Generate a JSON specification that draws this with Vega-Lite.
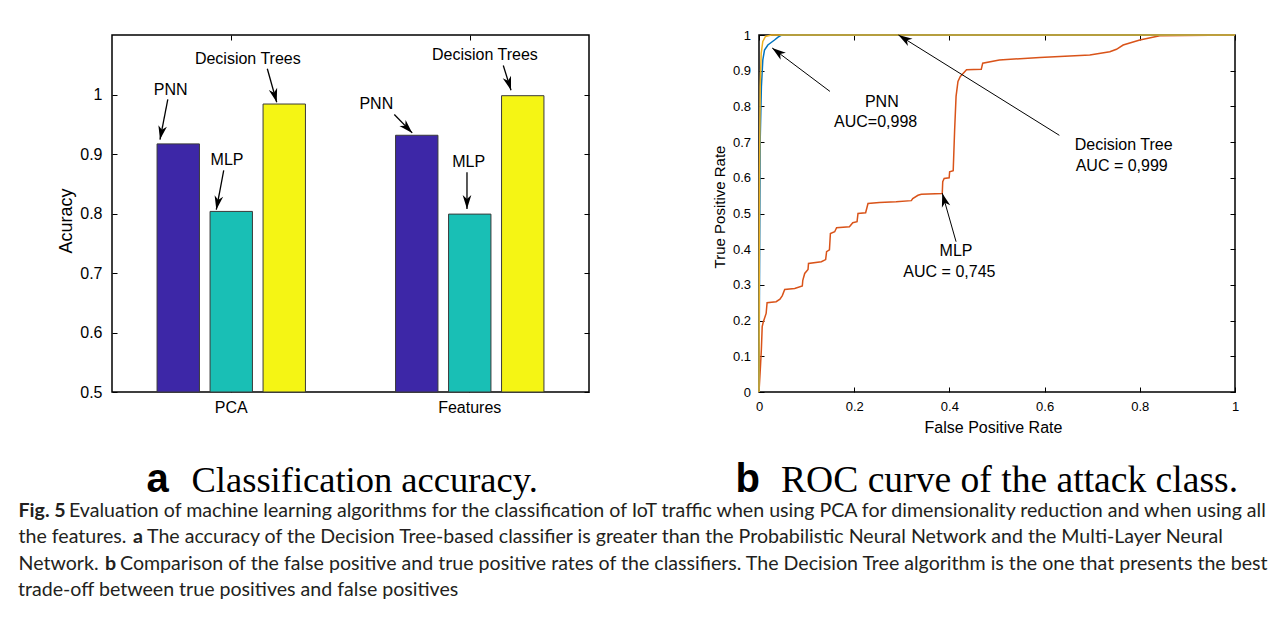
{
  "$schema": "https://vega.github.io/schema/vega-lite/v6.json",
  "background": "white",
  "padding": {"left": 16, "top": 28, "right": 5, "bottom": 0},
  "bounds": "flush",
  "spacing": 170,
  "config": {
    "view": {"stroke": "black", "strokeWidth": 1.5},
    "axis": {
      "domain": false,
      "grid": false,
      "labelColor": "black",
      "titleColor": "black",
      "tickColor": "black",
      "labelFont": "Liberation Sans",
      "titleFont": "Liberation Sans",
      "titleFontWeight": "normal"
    },
    "text": {"font": "Liberation Sans"}
  },
  "datasets": {
    "bars": [
      {"set": "PCA", "model": "PNN", "acc": 0.917},
      {"set": "PCA", "model": "MLP", "acc": 0.8035},
      {"set": "PCA", "model": "Decision Trees", "acc": 0.984},
      {"set": "Features", "model": "PNN", "acc": 0.9315},
      {"set": "Features", "model": "MLP", "acc": 0.799},
      {"set": "Features", "model": "Decision Trees", "acc": 0.998}
    ],
    "larrows": [
      {"x1": 0.3256, "y1": 1.0433, "x2": 0.3453, "y2": 0.987},
      {"x1": 0.117, "y1": 0.9916, "x2": 0.1006, "y2": 0.9242},
      {"x1": 0.2342, "y1": 0.8726, "x2": 0.2187, "y2": 0.8064},
      {"x1": 0.8203, "y1": 1.0488, "x2": 0.8365, "y2": 1.0072},
      {"x1": 0.5918, "y1": 0.9663, "x2": 0.6294, "y2": 0.9355},
      {"x1": 0.7442, "y1": 0.8692, "x2": 0.7442, "y2": 0.8076}
    ],
    "llabels": [
      {"x": 0.2847, "y": 1.06, "label": "Decision Trees"},
      {"x": 0.1229, "y": 1.0084, "label": "PNN"},
      {"x": 0.2411, "y": 0.8906, "label": "MLP"},
      {"x": 0.7818, "y": 1.0657, "label": "Decision Trees"},
      {"x": 0.5541, "y": 0.9832, "label": "PNN"},
      {"x": 0.7476, "y": 0.8867, "label": "MLP"}
    ],
    "roc": [
      {"model": "MLP", "fpr": 0, "tpr": 0},
      {"model": "MLP", "fpr": 0.003, "tpr": 0.07},
      {"model": "MLP", "fpr": 0.005, "tpr": 0.12},
      {"model": "MLP", "fpr": 0.0067, "tpr": 0.183},
      {"model": "MLP", "fpr": 0.009, "tpr": 0.196},
      {"model": "MLP", "fpr": 0.015, "tpr": 0.22},
      {"model": "MLP", "fpr": 0.017, "tpr": 0.25},
      {"model": "MLP", "fpr": 0.036, "tpr": 0.253},
      {"model": "MLP", "fpr": 0.044, "tpr": 0.26},
      {"model": "MLP", "fpr": 0.049, "tpr": 0.27},
      {"model": "MLP", "fpr": 0.054, "tpr": 0.287},
      {"model": "MLP", "fpr": 0.075, "tpr": 0.29},
      {"model": "MLP", "fpr": 0.091, "tpr": 0.297},
      {"model": "MLP", "fpr": 0.092, "tpr": 0.313},
      {"model": "MLP", "fpr": 0.096, "tpr": 0.332},
      {"model": "MLP", "fpr": 0.103, "tpr": 0.343},
      {"model": "MLP", "fpr": 0.104, "tpr": 0.36},
      {"model": "MLP", "fpr": 0.131, "tpr": 0.365},
      {"model": "MLP", "fpr": 0.14, "tpr": 0.371},
      {"model": "MLP", "fpr": 0.142, "tpr": 0.393},
      {"model": "MLP", "fpr": 0.148, "tpr": 0.398},
      {"model": "MLP", "fpr": 0.15, "tpr": 0.444},
      {"model": "MLP", "fpr": 0.159, "tpr": 0.449},
      {"model": "MLP", "fpr": 0.163, "tpr": 0.46},
      {"model": "MLP", "fpr": 0.19, "tpr": 0.463},
      {"model": "MLP", "fpr": 0.197, "tpr": 0.474},
      {"model": "MLP", "fpr": 0.206, "tpr": 0.477},
      {"model": "MLP", "fpr": 0.208, "tpr": 0.5},
      {"model": "MLP", "fpr": 0.224, "tpr": 0.502},
      {"model": "MLP", "fpr": 0.229, "tpr": 0.528},
      {"model": "MLP", "fpr": 0.253, "tpr": 0.531},
      {"model": "MLP", "fpr": 0.288, "tpr": 0.533},
      {"model": "MLP", "fpr": 0.32, "tpr": 0.536},
      {"model": "MLP", "fpr": 0.323, "tpr": 0.542},
      {"model": "MLP", "fpr": 0.334, "tpr": 0.551},
      {"model": "MLP", "fpr": 0.341, "tpr": 0.554},
      {"model": "MLP", "fpr": 0.385, "tpr": 0.556},
      {"model": "MLP", "fpr": 0.386, "tpr": 0.589},
      {"model": "MLP", "fpr": 0.389, "tpr": 0.598},
      {"model": "MLP", "fpr": 0.3995, "tpr": 0.6},
      {"model": "MLP", "fpr": 0.4005, "tpr": 0.617},
      {"model": "MLP", "fpr": 0.408, "tpr": 0.62},
      {"model": "MLP", "fpr": 0.411, "tpr": 0.734},
      {"model": "MLP", "fpr": 0.414, "tpr": 0.828},
      {"model": "MLP", "fpr": 0.418, "tpr": 0.87},
      {"model": "MLP", "fpr": 0.423, "tpr": 0.884},
      {"model": "MLP", "fpr": 0.436, "tpr": 0.903},
      {"model": "MLP", "fpr": 0.467, "tpr": 0.904},
      {"model": "MLP", "fpr": 0.47, "tpr": 0.921},
      {"model": "MLP", "fpr": 0.505, "tpr": 0.93},
      {"model": "MLP", "fpr": 0.59, "tpr": 0.937},
      {"model": "MLP", "fpr": 0.695, "tpr": 0.944},
      {"model": "MLP", "fpr": 0.737, "tpr": 0.953},
      {"model": "MLP", "fpr": 0.751, "tpr": 0.96},
      {"model": "MLP", "fpr": 0.765, "tpr": 0.972},
      {"model": "MLP", "fpr": 0.8, "tpr": 0.986},
      {"model": "MLP", "fpr": 0.842, "tpr": 0.998},
      {"model": "MLP", "fpr": 1, "tpr": 1},
      {"model": "PNN", "fpr": 0, "tpr": 0},
      {"model": "PNN", "fpr": 0.001, "tpr": 0.3},
      {"model": "PNN", "fpr": 0.0025, "tpr": 0.705},
      {"model": "PNN", "fpr": 0.005, "tpr": 0.855},
      {"model": "PNN", "fpr": 0.008, "tpr": 0.93},
      {"model": "PNN", "fpr": 0.0116, "tpr": 0.958},
      {"model": "PNN", "fpr": 0.0186, "tpr": 0.972},
      {"model": "PNN", "fpr": 0.0256, "tpr": 0.979},
      {"model": "PNN", "fpr": 0.0326, "tpr": 0.986},
      {"model": "PNN", "fpr": 0.04, "tpr": 0.994},
      {"model": "PNN", "fpr": 0.0466, "tpr": 0.999},
      {"model": "PNN", "fpr": 0.057, "tpr": 1},
      {"model": "PNN", "fpr": 1, "tpr": 1},
      {"model": "Decision Tree", "fpr": 0, "tpr": 0},
      {"model": "Decision Tree", "fpr": 0.001, "tpr": 0.6},
      {"model": "Decision Tree", "fpr": 0.0025, "tpr": 0.855},
      {"model": "Decision Tree", "fpr": 0.0046, "tpr": 0.949},
      {"model": "Decision Tree", "fpr": 0.008, "tpr": 0.982},
      {"model": "Decision Tree", "fpr": 0.0137, "tpr": 0.996},
      {"model": "Decision Tree", "fpr": 0.026, "tpr": 1},
      {"model": "Decision Tree", "fpr": 1, "tpr": 1}
    ],
    "rarrows": [
      {"x1": 0.149, "y1": 0.842, "x2": 0.0277, "y2": 0.9636},
      {"x1": 0.631, "y1": 0.719, "x2": 0.293, "y2": 1.0},
      {"x1": 0.414, "y1": 0.421, "x2": 0.385, "y2": 0.557}
    ],
    "rlabels": [
      {"x": 0.258, "y": 0.812, "label": "PNN"},
      {"x": 0.245, "y": 0.756, "label": "AUC=0,998"},
      {"x": 0.766, "y": 0.691, "label": "Decision Tree"},
      {"x": 0.762, "y": 0.632, "label": "AUC = 0,999"},
      {"x": 0.414, "y": 0.396, "label": "MLP"},
      {"x": 0.4, "y": 0.336, "label": "AUC = 0,745"}
    ]
  },
  "hconcat": [
    {
      "width": 477,
      "height": 357,
      "layer": [
        {
          "data": {"name": "bars"},
          "mark": {"type": "bar", "stroke": "#3a3a3a", "strokeWidth": 1},
          "encoding": {
            "x": {
              "field": "set", "type": "nominal", "sort": ["PCA", "Features"],
              "scale": {"paddingInner": 0, "paddingOuter": 0},
              "axis": {
                "orient": "bottom", "labelAngle": 0, "labelFontSize": 16, "labelPadding": 12,
                "tickSize": -5, "tickWidth": 1,
                "title": "Classification accuracy.", "titleFont": "Liberation Serif", "titleFontSize": 36.5,
                "titleX": 79, "titleY": 99, "titleAlign": "left", "titleBaseline": "alphabetic", "titleAnchor": null
              }
            },
            "xOffset": {
              "field": "model", "type": "nominal", "sort": ["PNN", "MLP", "Decision Trees"],
              "scale": {"paddingInner": 0.2, "paddingOuter": 0.85}
            },
            "y": {
              "field": "acc", "type": "quantitative",
              "scale": {"domain": [0.5, 1.1], "zero": false, "nice": false},
              "axis": {
                "orient": "left", "values": [0.5, 0.6, 0.7, 0.8, 0.9, 1], "format": ".1~f",
                "labelFontSize": 16, "labelPadding": 15, "tickSize": -5,
                "title": "Acuracy", "titleFontSize": 18, "titleX": -46, "titleY": 185.5,
                "titleAlign": "center", "titleBaseline": "middle", "titleAngle": -90
              }
            },
            "y2": {"datum": 0.5},
            "fill": {
              "field": "model", "type": "nominal",
              "scale": {"domain": ["PNN", "MLP", "Decision Trees"], "range": ["#3d27a7", "#19bfb5", "#f5f514"]},
              "legend": null
            }
          }
        },
        {
          "data": {"name": "larrows"},
          "mark": {"type": "rule", "color": "black", "strokeWidth": 1.3},
          "encoding": {
            "x": {
              "field": "x1", "type": "quantitative",
              "scale": {"domain": [0, 1], "nice": false, "zero": false},
              "axis": {
                "orient": "top", "values": [0.25, 0.75], "labels": false, "tickSize": -5,
                "title": "the features.",
                "titleFont": "Lato", "titleFontSize": 19.6, "titleColor": "#231f20",
                "titleAngle": 0, "titleX": -94, "titleY": 507.6, "titleAlign": "left", "titleBaseline": "alphabetic"
              }
            },
            "x2": {"field": "x2"},
            "y": {
              "field": "y1", "type": "quantitative",
              "axis": {
                "orient": "right", "values": [0.5, 0.6, 0.7, 0.8, 0.9, 1], "labels": false, "tickSize": -5,
                "title": "Network.",
                "titleFont": "Lato", "titleFontSize": 19.6, "titleColor": "#231f20",
                "titleAngle": 0, "titleX": -571, "titleY": 534.2, "titleAlign": "left", "titleBaseline": "alphabetic"
              }
            },
            "y2": {"field": "y2"}
          }
        },
        {
          "data": {"name": "larrows"},
          "transform": [
            {"calculate": "atan2((datum.x2 - datum.x1) * 477, (datum.y2 - datum.y1) * 594) * 180 / PI", "as": "ang"}
          ],
          "mark": {"type": "point", "filled": true, "color": "black", "opacity": 1, "size": 300, "shape": "M0,0L-0.5,1.6L0,1.15L0.5,1.6Z"},
          "encoding": {
            "x": {
              "field": "x2", "type": "quantitative",
              "scale": {"domain": [0, 1], "nice": false, "zero": false},
              "axis": {
                "orient": "bottom", "labels": false, "ticks": false, "title": "a",
                "titleFont": "Liberation Sans", "titleFontWeight": "bold", "titleFontSize": 40,
                "titleX": 34, "titleY": 99, "titleAlign": "left", "titleBaseline": "alphabetic"
              }
            },
            "y": {
              "field": "y2", "type": "quantitative",
              "axis": {
                "orient": "left", "labels": false, "ticks": false, "title": "b",
                "titleFont": "Lato", "titleFontWeight": "bold", "titleFontSize": 19.6, "titleColor": "#231f20",
                "titleAngle": 0, "titleX": -7.5, "titleY": 534.2, "titleAlign": "left", "titleBaseline": "alphabetic"
              }
            },
            "angle": {"field": "ang", "type": "quantitative", "scale": null}
          }
        },
        {
          "data": {"name": "llabels"},
          "mark": {"type": "text", "fontSize": 16, "align": "center", "baseline": "middle", "color": "black"},
          "encoding": {
            "x": {
              "field": "x", "type": "quantitative", "scale": {"domain": [0, 1], "nice": false, "zero": false},
              "axis": {
                "orient": "bottom", "labels": false, "ticks": false, "title": "Fig. 5",
                "titleFont": "Lato", "titleFontWeight": "bold", "titleFontSize": 19.6, "titleColor": "#231f20",
                "titleX": -94, "titleY": 124, "titleAlign": "left", "titleBaseline": "alphabetic"
              }
            },
            "y": {
              "field": "y", "type": "quantitative",
              "axis": {
                "orient": "left", "labels": false, "ticks": false, "title": "a",
                "titleFont": "Lato", "titleFontWeight": "bold", "titleFontSize": 19.6, "titleColor": "#231f20",
                "titleAngle": 0, "titleX": 20.5, "titleY": 507.6, "titleAlign": "left", "titleBaseline": "alphabetic"
              }
            },
            "text": {"field": "label"}
          }
        }
      ],
      "resolve": {"scale": {"x": "independent"}, "axis": {"x": "independent", "y": "independent"}}
    },
    {
      "width": 476,
      "height": 357,
      "layer": [
        {
          "data": {"name": "roc"},
          "mark": {"type": "line", "strokeWidth": 1.5},
          "encoding": {
            "x": {
              "field": "fpr", "type": "quantitative",
              "scale": {"domain": [0, 1], "nice": false},
              "axis": {
                "orient": "bottom", "values": [0, 0.2, 0.4, 0.6, 0.8, 1], "format": ".1~f",
                "labelFontSize": 13, "labelPadding": 13.7, "tickSize": -5, "labelFlush": false,
                "title": "False Positive Rate", "titleFontSize": 16, "titleX": 234, "titleY": 40,
                "titleAlign": "center", "titleBaseline": "alphabetic"
              }
            },
            "y": {
              "field": "tpr", "type": "quantitative",
              "scale": {"domain": [0, 1], "nice": false},
              "axis": {
                "orient": "left", "values": [0, 0.1, 0.2, 0.3, 0.4, 0.5, 0.6, 0.7, 0.8, 0.9, 1], "format": ".1~f",
                "labelFontSize": 13, "labelPadding": 13.5, "tickSize": -5, "labelFlush": false,
                "title": "True Positive Rate", "titleFontSize": 15, "titleX": -40, "titleY": 171.5,
                "titleAlign": "center", "titleBaseline": "middle", "titleAngle": -90
              }
            },
            "color": {
              "field": "model", "type": "nominal",
              "scale": {"domain": ["MLP", "PNN", "Decision Tree"], "range": ["#D95319", "#0072BD", "#EDB120"]},
              "legend": null
            }
          }
        },
        {
          "data": {"name": "rarrows"},
          "mark": {"type": "rule", "color": "black", "strokeWidth": 1},
          "encoding": {
            "x": {
              "field": "x1", "type": "quantitative",
              "axis": {
                "orient": "top", "values": [0, 0.2, 0.4, 0.6, 0.8, 1], "labels": false, "tickSize": -5,
                "title": "The accuracy of the Decision Tree-based classifier is greater than the Probabilistic Neural Network and the Multi-Layer Neural",
                "titleFont": "Lato", "titleFontSize": 19.6, "titleColor": "#231f20",
                "titleAngle": 0, "titleX": -612.5, "titleY": 507.6, "titleAlign": "left", "titleBaseline": "alphabetic"
              }
            },
            "x2": {"field": "x2"},
            "y": {
              "field": "y1", "type": "quantitative",
              "axis": {
                "orient": "right", "values": [0, 0.1, 0.2, 0.3, 0.4, 0.5, 0.6, 0.7, 0.8, 0.9, 1], "labels": false, "tickSize": -5,
                "title": "Comparison of the false positive and true positive rates of the classifiers. The Decision Tree algorithm is the one that presents the best",
                "titleFont": "Lato", "titleFontSize": 19.6, "titleColor": "#231f20",
                "titleAngle": 0, "titleX": -1115.5, "titleY": 534.2, "titleAlign": "left", "titleBaseline": "alphabetic"
              }
            },
            "y2": {"field": "y2"}
          }
        },
        {
          "data": {"name": "rarrows"},
          "transform": [
            {"calculate": "atan2((datum.x2 - datum.x1) * 476, (datum.y2 - datum.y1) * 357) * 180 / PI", "as": "ang"}
          ],
          "mark": {"type": "point", "filled": true, "color": "black", "opacity": 1, "size": 300, "shape": "M0,0L-0.5,1.6L0,1.15L0.5,1.6Z"},
          "encoding": {
            "x": {
              "field": "x2", "type": "quantitative",
              "axis": {
                "orient": "bottom", "labels": false, "ticks": false, "title": "b",
                "titleFont": "Liberation Sans", "titleFontWeight": "bold", "titleFontSize": 40,
                "titleX": -24, "titleY": 99, "titleAlign": "left", "titleBaseline": "alphabetic"
              }
            },
            "y": {
              "field": "y2", "type": "quantitative",
              "axis": {
                "orient": "left", "labels": false, "ticks": false,
                "title": "Evaluation of machine learning algorithms for the classification of IoT traffic when using PCA for dimensionality reduction and when using all",
                "titleFont": "Lato", "titleFontSize": 19.6, "titleColor": "#231f20",
                "titleAngle": 0, "titleX": -690.5, "titleY": 481, "titleAlign": "left", "titleBaseline": "alphabetic"
              }
            },
            "angle": {"field": "ang", "type": "quantitative", "scale": null}
          }
        },
        {
          "data": {"name": "rlabels"},
          "mark": {"type": "text", "fontSize": 16, "align": "center", "baseline": "middle", "color": "black"},
          "encoding": {
            "x": {
              "field": "x", "type": "quantitative",
              "axis": {
                "orient": "bottom", "labels": false, "ticks": false, "title": "ROC curve of the attack class.",
                "titleFont": "Liberation Serif", "titleFontSize": 37.6,
                "titleX": 21.5, "titleY": 99, "titleAlign": "left", "titleBaseline": "alphabetic"
              }
            },
            "y": {
              "field": "y", "type": "quantitative",
              "axis": {
                "orient": "left", "labels": false, "ticks": false,
                "title": "trade-off between true positives and false positives",
                "titleFont": "Lato", "titleFontSize": 19.6, "titleColor": "#231f20",
                "titleAngle": 0, "titleX": -741.5, "titleY": 560.8, "titleAlign": "left", "titleBaseline": "alphabetic"
              }
            },
            "text": {"field": "label"}
          }
        }
      ],
      "resolve": {"axis": {"x": "independent", "y": "independent"}}
    }
  ]
}
